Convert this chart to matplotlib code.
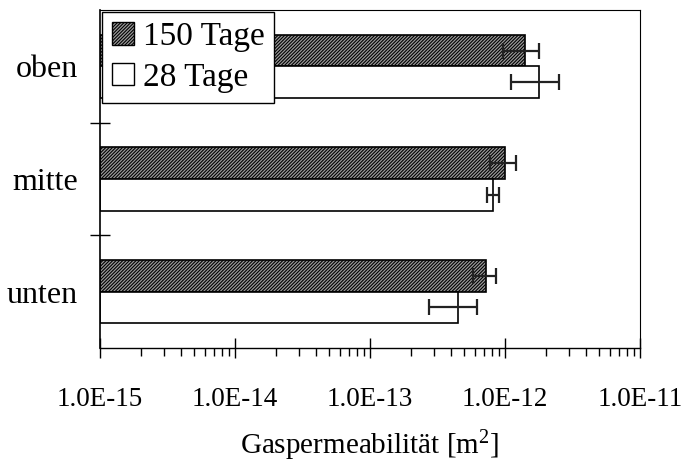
import numpy as np
import matplotlib
matplotlib.use("Agg")
import matplotlib.pyplot as plt
from matplotlib.patches import Patch
from matplotlib.ticker import FuncFormatter, LogLocator, FixedLocator, NullFormatter

# Werte in m^2
positions = ["oben", "mitte", "unten"]
val_150 = [1.41e-12, 1.00e-12, 0.72e-12]
lo_150 = [0.97e-12, 0.77e-12, 0.58e-12]
hi_150 = [1.79e-12, 1.20e-12, 0.86e-12]
val_28 = [1.79e-12, 0.815e-12, 0.449e-12]
lo_28 = [1.11e-12, 0.73e-12, 0.274e-12]
hi_28 = [2.51e-12, 0.90e-12, 0.62e-12]
decades = [1e-15, 1e-14, 1e-13, 1e-12, 1e-11]

plt.rcParams["font.family"] = ["Liberation Serif", "DejaVu Serif"]
plt.rcParams["mathtext.fontset"] = "custom"
plt.rcParams["mathtext.rm"] = "Liberation Serif"
plt.rcParams["mathtext.it"] = "Liberation Serif:italic"
plt.rcParams["hatch.color"] = "#505050"
plt.rcParams["hatch.linewidth"] = 0.8

fig = plt.figure(figsize=(6.92, 4.73), dpi=100)
ax = fig.add_axes([100 / 692, 1 - 348 / 473, 540 / 692, 338 / 473])

xmin = 1e-15
y = np.arange(len(positions)) + 0.5
h = 0.28

v150 = np.array(val_150)
v28 = np.array(val_28)
err150 = [v150 - np.array(lo_150), np.array(hi_150) - v150]
err28 = [v28 - np.array(lo_28), np.array(hi_28) - v28]

ax.barh(y - h / 2, v150 - xmin, height=h, left=xmin, color="#9a9a9a",
        hatch="//////////", edgecolor="black", linewidth=1.2)
ax.barh(y + h / 2, v28 - xmin, height=h, left=xmin, color="white",
        edgecolor="black", linewidth=1.2)
ax.errorbar(v150, y - h / 2, xerr=err150, fmt="none", ecolor="#222222",
            elinewidth=1.6, capsize=6, capthick=1.6)
ax.errorbar(v28, y + h / 2, xerr=err28, fmt="none", ecolor="#222222",
            elinewidth=1.6, capsize=6, capthick=1.6)

ax.set_xscale("log")
ax.set_xlim(decades[0], decades[-1])
ax.set_ylim(3, 0)

ax.xaxis.set_major_locator(FixedLocator(decades))
ax.xaxis.set_minor_locator(LogLocator(base=10, subs=np.arange(2, 10), numticks=20))
ax.xaxis.set_minor_formatter(NullFormatter())
ax.xaxis.set_major_formatter(FuncFormatter(lambda v, p: f"1.0E{int(round(np.log10(v)))}"))
ax.tick_params(axis="x", which="major", direction="inout", length=14, width=1,
               labelsize=19.5, pad=21)
ax.tick_params(axis="x", which="minor", direction="out", length=6, width=1)

ax.set_yticks(y)
ax.set_yticklabels(positions)
ax.yaxis.set_minor_locator(FixedLocator([1, 2]))
ax.tick_params(axis="y", which="major", length=0, labelsize=23, pad=16)
ax.tick_params(axis="y", which="minor", direction="inout", length=14, width=1)

for s in ["top", "right"]:
    ax.spines[s].set_linestyle((0, (2, 1)))
    ax.spines[s].set_linewidth(0.8)
ax.spines["left"].set_linewidth(1.2)
ax.spines["bottom"].set_linewidth(1.0)

ax.set_xlabel("Gaspermeabilität [m$^2$]", fontsize=21, labelpad=12)

handles = [Patch(facecolor="#9a9a9a", hatch="//////////", edgecolor="black", label="150 Tage"),
           Patch(facecolor="white", edgecolor="black", label="28 Tage")]
leg = ax.legend(handles=handles, loc="upper left", fontsize=24, handlelength=0.68,
                handleheight=0.68, handletextpad=0.25, borderaxespad=0.05,
                fancybox=False, framealpha=1, labelspacing=0.3, borderpad=0.3)
leg.get_frame().set_edgecolor("black")
leg.get_frame().set_linewidth(1.0)

fig.savefig("out.png", dpi=100)
